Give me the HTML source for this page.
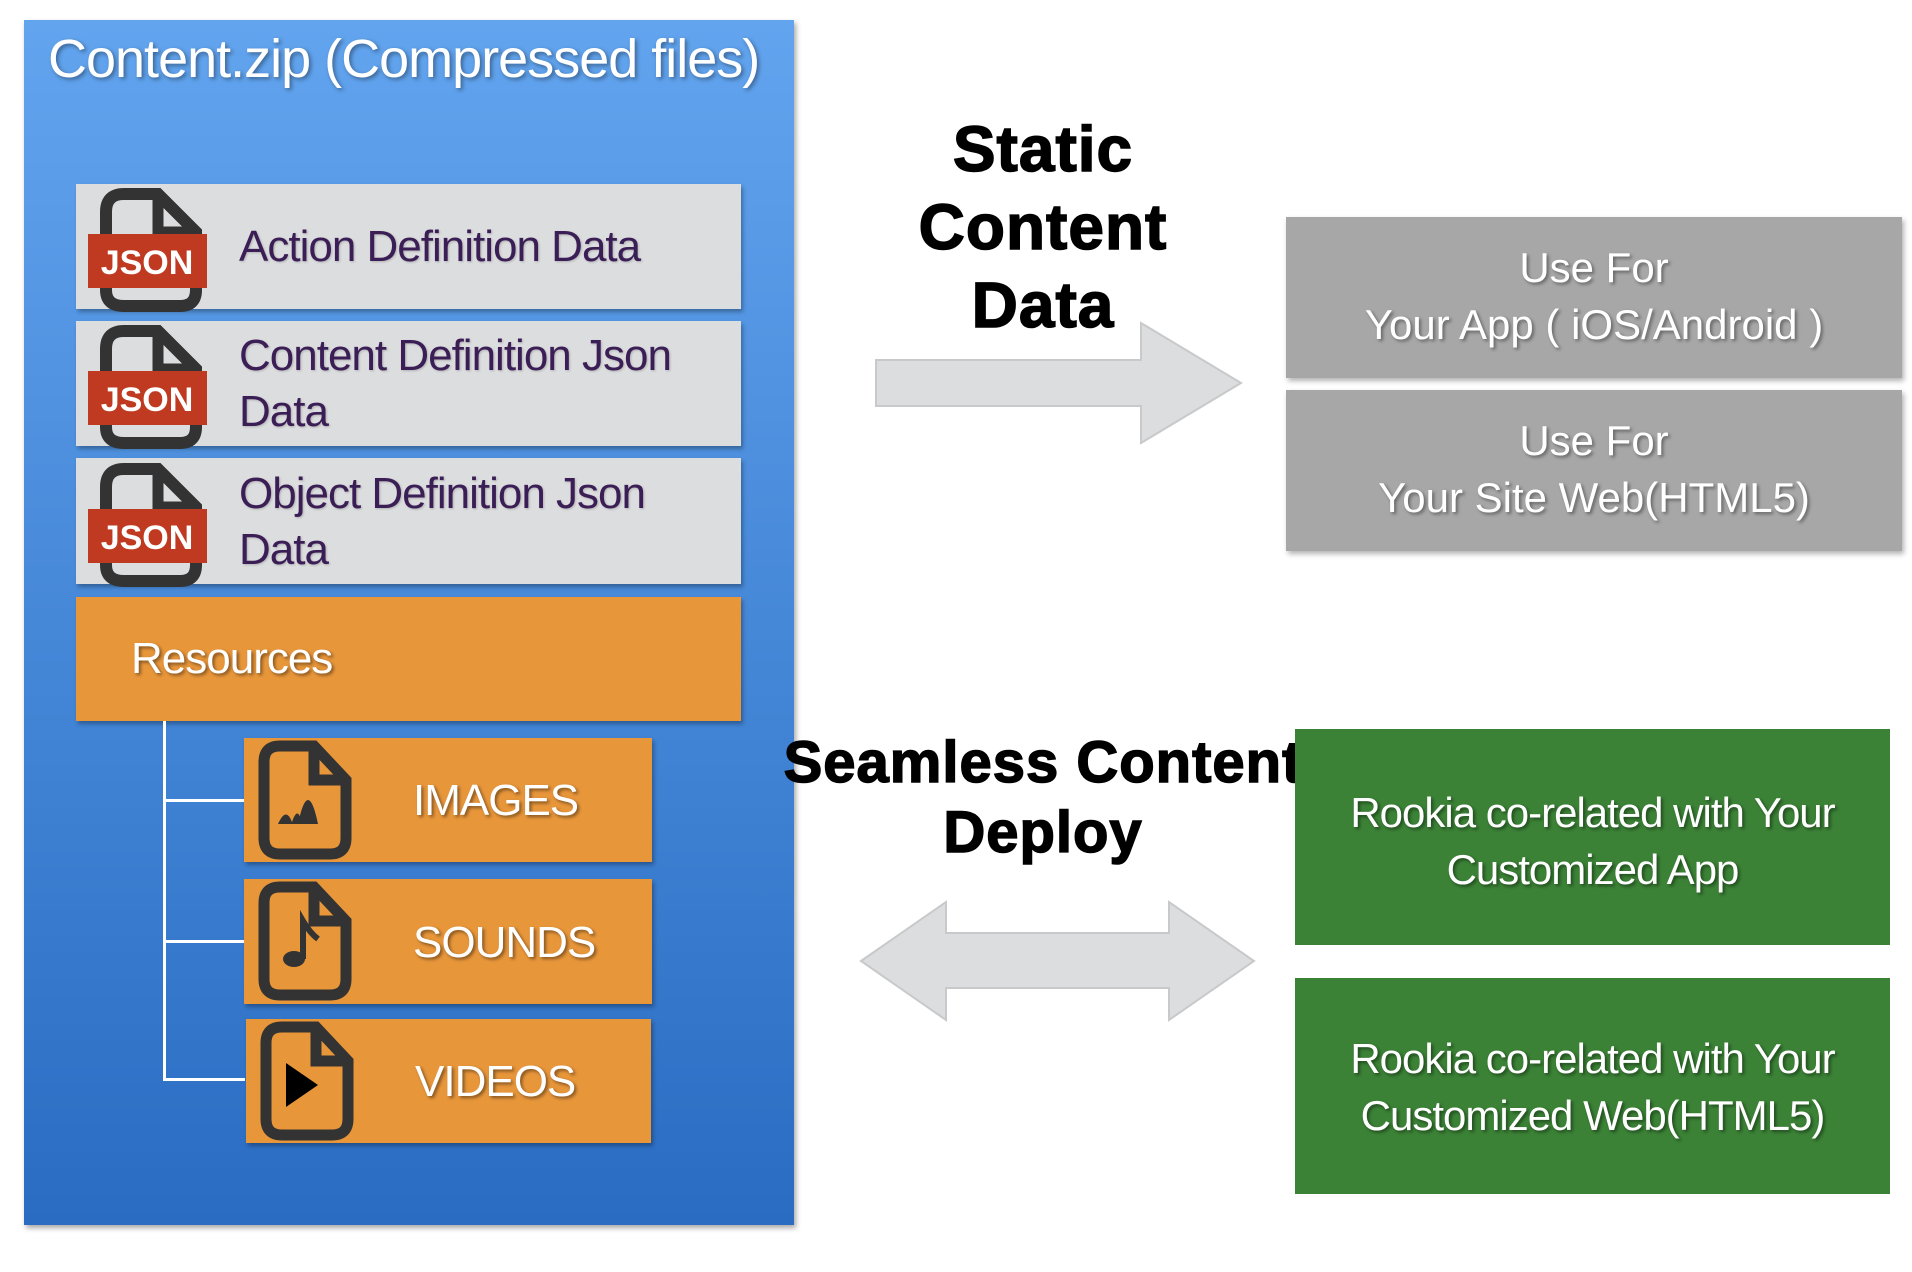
<!DOCTYPE html>
<html><head><meta charset="utf-8"><style>
body{margin:0;width:1912px;height:1272px;background:#fff;position:relative;overflow:hidden;font-family:"Liberation Sans",sans-serif}
.a{position:absolute;box-sizing:border-box}
.panel{left:24px;top:20px;width:770px;height:1205px;background:linear-gradient(#62a4ee,#2a6cc2);box-shadow:2px 3px 5px rgba(0,0,0,.35)}
.row{left:76px;width:665px;background:#dcdddf;box-shadow:2px 3px 4px rgba(0,0,0,.3)}
.rt{position:absolute;left:163px;color:#3b1e55;font-size:44px;line-height:56px;letter-spacing:-1px;text-shadow:1px 1px 2px rgba(0,0,0,.2)}
.or{background:#e8963a;box-shadow:2px 3px 4px rgba(0,0,0,.3)}
.ot{position:absolute;color:#fff;font-size:44px;text-shadow:2px 2px 3px rgba(0,0,0,.45);letter-spacing:-1px}
.big{position:absolute;font-weight:bold;color:#000;text-align:center;font-size:64px;line-height:78px;letter-spacing:1px;-webkit-text-stroke:1.5px #000}
.gb{left:1286px;width:616px;height:161px;background:#a6a7a6;color:#fff;text-align:center;font-size:42px;line-height:57px;padding-top:22px;text-shadow:2px 2px 3px rgba(0,0,0,.4);box-shadow:2px 3px 5px rgba(0,0,0,.3)}
.gr{left:1295px;width:595px;height:216px;background:#3b8236;color:#fff;text-align:center;font-size:42px;line-height:57px;text-shadow:2px 2px 3px rgba(0,0,0,.45);letter-spacing:-1px}
</style></head><body>
<div class="a panel"></div>
<div class="a" style="left:48px;top:28px;color:#fff;font-size:54px;text-shadow:2px 2px 4px rgba(0,0,0,.4);letter-spacing:-1px">Content.zip (Compressed files)</div>

<div class="a row" style="top:184px;height:125px"></div>
<div class="a row" style="top:321px;height:125px"></div>
<div class="a row" style="top:458px;height:126px"></div>
<div class="rt" style="top:219px;left:239px">Action Definition Data</div>
<div class="rt" style="top:328px;left:239px">Content Definition Json<br>Data</div>
<div class="rt" style="top:466px;left:239px">Object Definition Json<br>Data</div>
<svg class="a" style="left:0;top:0" width="900" height="600">
<defs><g id="js"><path d="M18 0 H52 L90 38 V96 Q90 112 74 112 H18 Q0 112 0 96 V18 Q0 0 18 0Z" fill="none" stroke="#333" stroke-width="12" transform="translate(18,4)"/><path d="M70 2 V42 H108" fill="none" stroke="#333" stroke-width="11"/></g></defs>
<g transform="translate(88,190)"><use href="#js"/><rect x="0" y="44" width="119" height="54" fill="#bf3a20"/><text x="59" y="84" fill="#fff" font-size="34" font-weight="bold" text-anchor="middle">JSON</text></g>
<g transform="translate(88,327)"><use href="#js"/><rect x="0" y="44" width="119" height="54" fill="#bf3a20"/><text x="59" y="84" fill="#fff" font-size="34" font-weight="bold" text-anchor="middle">JSON</text></g>
<g transform="translate(88,465)"><use href="#js"/><rect x="0" y="44" width="119" height="54" fill="#bf3a20"/><text x="59" y="84" fill="#fff" font-size="34" font-weight="bold" text-anchor="middle">JSON</text></g>
</svg>

<div class="a or" style="left:76px;top:597px;width:665px;height:124px"></div>
<div class="ot" style="left:131px;top:634px">Resources</div>
<div class="a" style="left:163px;top:721px;width:3px;height:360px;background:#fff"></div>
<div class="a" style="left:163px;top:799px;width:82px;height:3px;background:#fff"></div>
<div class="a" style="left:163px;top:940px;width:82px;height:3px;background:#fff"></div>
<div class="a" style="left:163px;top:1078px;width:82px;height:3px;background:#fff"></div>
<div class="a or" style="left:244px;top:738px;width:408px;height:124px"></div>
<div class="a or" style="left:244px;top:879px;width:408px;height:125px"></div>
<div class="a or" style="left:246px;top:1019px;width:405px;height:124px"></div>
<div class="ot" style="left:413px;top:776px">IMAGES</div>
<div class="ot" style="left:413px;top:918px">SOUNDS</div>
<div class="ot" style="left:415px;top:1057px">VIDEOS</div>
<svg class="a" style="left:0;top:0" width="700" height="1200">
<defs><g id="fi"><path d="M16 0 H50 L82 34 V92 Q82 108 66 108 H16 Q0 108 0 92 V16 Q0 0 16 0Z" fill="none" stroke="#333" stroke-width="11"/><path d="M50 0 V34 H82" fill="none" stroke="#333" stroke-width="11"/></g></defs>
<g transform="translate(264,746)"><use href="#fi"/><path d="M14 78 Q22 60 28 76 Q34 58 38 78Z M34 78 Q44 30 54 78Z" fill="#333"/></g>
<g transform="translate(264,887)"><use href="#fi"/><ellipse cx="30" cy="72" rx="11" ry="8" fill="#333"/><path d="M39 72 V34 Q46 46 54 52" fill="none" stroke="#333" stroke-width="6"/></g>
<g transform="translate(266,1027)"><use href="#fi"/><path d="M20 36 L52 58 L20 80Z" fill="#000"/></g>
</svg>

<div class="big" style="left:843px;top:110px;width:400px">Static<br>Content<br>Data</div>
<svg class="a" style="left:860px;top:315px" width="400" height="140"><path d="M16 45 H281 V8 L381 68 L281 128 V91 H16Z" fill="#dcdddf" stroke="#c8c9ca" stroke-width="2"/></svg>
<div class="a gb" style="top:217px">Use For<br>Your App ( iOS/Android )</div>
<div class="a gb" style="top:390px">Use For<br>Your Site Web(HTML5)</div>

<div class="big" style="left:743px;top:728px;width:600px;font-size:58px;line-height:70px">Seamless Content<br>Deploy</div>
<svg class="a" style="left:855px;top:895px" width="410" height="130"><path d="M6 66 L91 7 V38 H314 V7 L399 66 L314 125 V93 H91 V125Z" fill="#dcdddf" stroke="#c8c9ca" stroke-width="2"/></svg>
<div class="a gr" style="top:729px;padding-top:55px">Rookia co-related with Your<br>Customized App</div>
<div class="a gr" style="top:978px;padding-top:52px">Rookia co-related with Your<br>Customized Web(HTML5)</div>
</body></html>
